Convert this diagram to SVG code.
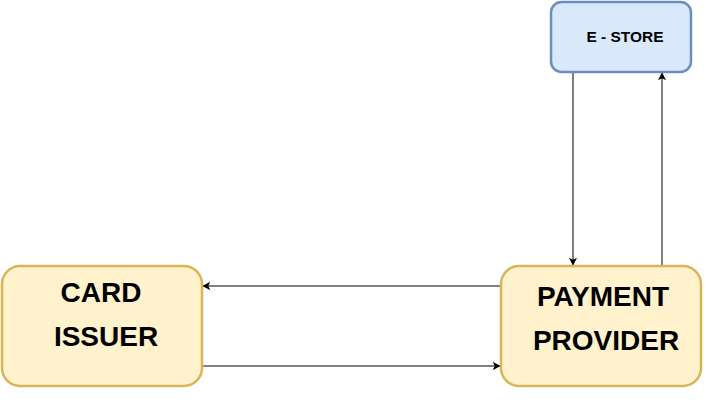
<svg xmlns="http://www.w3.org/2000/svg" width="706" height="415" viewBox="0 0 706 415">
<defs>
<style>
.blue{fill:#dae8fc;stroke:#6c8ebf;stroke-width:2.5}
.yellow{fill:#fff2cc;stroke:#d6b656;stroke-width:2.5}
.lbl{font-family:"Liberation Sans",Arial,sans-serif;font-weight:bold;fill:#000;text-anchor:middle}
.big{font-size:28px}
.small{font-size:15.5px}
.edge{stroke:#000;stroke-width:1;fill:none;marker-end:url(#ah)}
</style>
<marker id="ah" viewBox="0 0 10 10" refX="9" refY="5" markerWidth="8" markerHeight="8" markerUnits="userSpaceOnUse" orient="auto">
<path d="M0,0 L10,5 L0,10 L2.5,5 Z" fill="#000"/>
</marker>
</defs>
<rect width="706" height="415" fill="#fff"/>
<g id="connectors">
<line class="edge" x1="573" y1="72" x2="573" y2="265"/>
<line class="edge" x1="662" y1="266" x2="662" y2="73"/>
<line class="edge" x1="501" y1="286" x2="203" y2="286"/>
<line class="edge" x1="202" y1="366" x2="500" y2="366"/>
</g>
<g id="estore">
<rect class="blue" x="551" y="2" width="140" height="70" rx="10.5" ry="10.5"/>
<text class="lbl small" x="625" y="42">E - STORE</text>
</g>
<g id="card-issuer">
<rect class="yellow" x="2" y="266" width="200" height="120" rx="18" ry="18"/>
<text class="lbl big" x="101" y="302">CARD</text>
<text class="lbl big" x="106" y="346">ISSUER</text>
</g>
<g id="payment-provider">
<rect class="yellow" x="501" y="266" width="200" height="120" rx="18" ry="18"/>
<text class="lbl big" x="603" y="306">PAYMENT</text>
<text class="lbl big" x="606" y="350">PROVIDER</text>
</g>
</svg>
